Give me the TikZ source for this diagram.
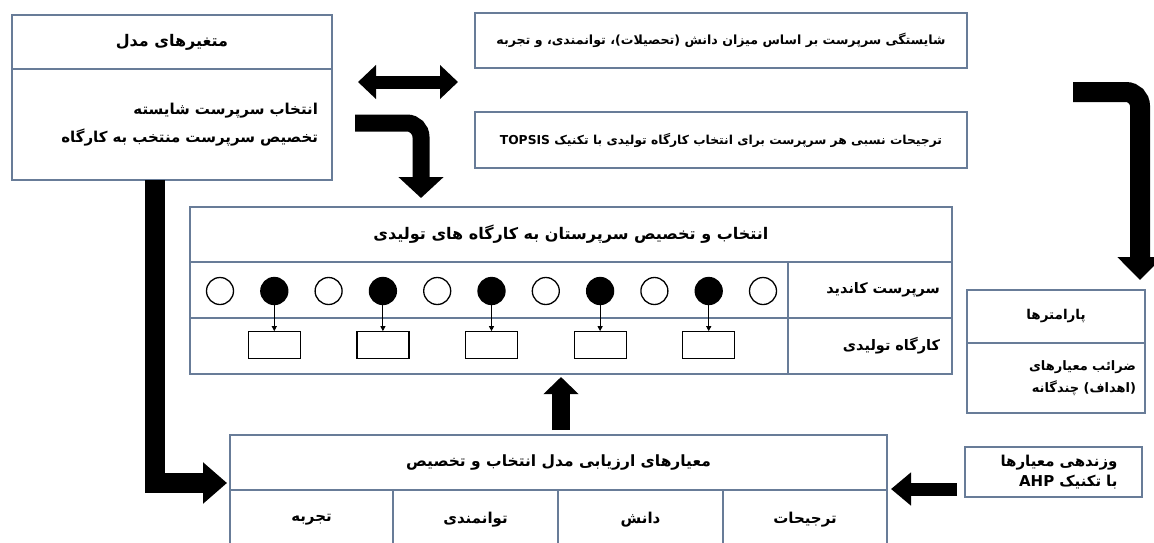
\documentclass[tikz,border=0pt]{standalone}
\usepackage{fontspec}
\usetikzlibrary{arrows.meta,positioning}
\newfontfamily\fafont[Script=Arabic]{DejaVu Sans}
\TeXXeTstate=1
\newcommand{\fa}[1]{\beginR #1\endR}
\definecolor{boxline}{RGB}{104,124,152}

\begin{document}
\begin{tikzpicture}[
  x=1pt, y=-1pt,
  cell/.style={draw=boxline,line width=1.2pt,fill=white,inner sep=0pt,align=center,fs=13},
  fs/.style={font=\fafont\bfseries\fontsize{#1}{22}\selectfont},
  cand/.style={circle,draw,line width=1.3pt,minimum size=27pt,inner sep=0pt},
  wshop/.style={draw,line width=1.2pt,minimum width=52pt,minimum height=27pt,inner sep=0pt},
  fat/.style={draw=black,line width=#1}
]
  \useasboundingbox (0,0) rectangle (1154,542);
  \clip (0,0) rectangle (1154,542);
  \fill[white] (0,0) rectangle (1154,542);

  % model variables
  \node[cell,fs=16,minimum width=320pt,minimum height=54pt] (varsT) at (172,42) {\fa{متغیرهای مدل}};
  \node[cell,minimum width=320pt,minimum height=111pt,text width=292pt,align=right,
    font=\fafont\bfseries\fontsize{15}{28}\selectfont] (varsB) at (172,124.5)
    {\fa{انتخاب سرپرست شایسته}\\\fa{تخصیص سرپرست منتخب به کارگاه}};

  % inputs
  \node[cell,fs=12.6,minimum width=492pt,minimum height=55pt] (merit) at (721,40.5)
    {\fa{شایستگی سرپرست بر اساس میزان دانش (تحصیلات)، توانمندی، و تجربه}};
  \node[cell,fs=12.3,minimum width=492pt,minimum height=56pt] (topsis) at (721,140)
    {\fa{ترجیحات نسبی هر سرپرست برای انتخاب کارگاه تولیدی با تکنیک \beginL TOPSIS\endL}};

  % selection and assignment
  \node[cell,fs=16,minimum width=762pt,minimum height=55pt] (mainT) at (571,234.5)
    {\fa{انتخاب و تخصیص سرپرستان به کارگاه های تولیدی}};
  \node[cell,minimum width=598pt,minimum height=56pt] (candRow) at (489,290) {};
  \node[cell,fs=14.5,minimum width=164pt,minimum height=56pt,text width=140pt,align=right] (candLbl) at (870,290)
    {\fa{سرپرست کاندید}};
  \node[cell,minimum width=598pt,minimum height=56pt] (wsRow) at (489,346) {};
  \node[cell,fs=14.5,minimum width=164pt,minimum height=56pt,text width=140pt,align=right] (wsLbl) at (870,346)
    {\fa{کارگاه تولیدی}};

  \foreach \i in {1,3,...,11}
    \node[cand] (c\i) at ({220+54.3*(\i-1)},291) {};
  \foreach \i in {2,4,...,10} {
    \node[cand,fill=black] (c\i) at ({220+54.3*(\i-1)},291) {};
    \node[wshop,below=26pt of c\i] (w\i) {};
    \draw[line width=1pt,-{Triangle[length=5pt,width=5pt]}] (c\i) -- (w\i);
  }

  % parameters
  \node[cell,fs=13.5,minimum width=178pt,minimum height=53pt] (parT) at (1056,316.5) {\fa{پارامترها}};
  \node[cell,minimum width=178pt,minimum height=70pt,text width=160pt,align=right] (parB) at (1056,378)
    {\fa{ضرائب معیارهای}\\\fa{(اهداف) چندگانه}};

  % evaluation criteria
  \node[cell,fs=15.5,minimum width=657pt,minimum height=55pt] (critT) at (558.5,462.5)
    {\fa{معیارهای ارزیابی مدل انتخاب و تخصیص}};
  \node[cell,fs=15,minimum width=163pt,minimum height=60pt] (k1) at (311.5,520) {\fa{تجربه}};
  \node[cell,fs=15,minimum width=165pt,minimum height=60pt] (k2) at (475.5,520) {\fa{توانمندی}};
  \node[cell,fs=15,minimum width=165pt,minimum height=60pt] (k3) at (640.5,520) {\fa{دانش}};
  \node[cell,fs=15,minimum width=164pt,minimum height=60pt] (k4) at (805,520) {\fa{ترجیحات}};

  \node[cell,minimum width=177pt,minimum height=50pt,text width=128pt,align=right,
    font=\fafont\bfseries\fontsize{15}{20}\selectfont] (ahp) at (1053.5,472)
    {\fa{وزندهی معیارها}\\\fa{با تکنیک \beginL AHP\endL}};

  % thick arrows
  \coordinate (dblL) at (358,82);
  \coordinate (dblR) at (458,82);
  \draw[fat=13pt,{Triangle[width=33pt,length=18pt]}-{Triangle[width=33pt,length=18pt]}] (dblL) -- (dblR);

  \coordinate (bendS) at (355,123);
  \coordinate (bendE) at (421,198);
  \draw[fat=17pt,rounded corners=14pt,-{Triangle[width=44pt,length=21pt]}] (bendS) -| (bendE);

  \coordinate (rightS) at (1073,92);
  \coordinate (rightE) at (1140,280);
  \draw[fat=20pt,rounded corners=14pt,-{Triangle[width=44pt,length=23pt]}] (rightS) -| (rightE);

  \coordinate (downS) at (155,180);
  \coordinate (downE) at (227,483);
  \draw[fat=20pt,-{Triangle[width=40pt,length=24pt]}] (downS) |- (downE);

  \coordinate (ahpS) at (957,489);
  \coordinate (ahpE) at (891,489);
  \draw[fat=13pt,-{Triangle[width=32pt,length=20pt]}] (ahpS) -- (ahpE);

  \coordinate (upS) at (561,430);
  \coordinate (upE) at (561,377);
  \draw[fat=18pt,-{Triangle[width=34pt,length=17pt]}] (upS) -- (upE);
\end{tikzpicture}
\end{document}
